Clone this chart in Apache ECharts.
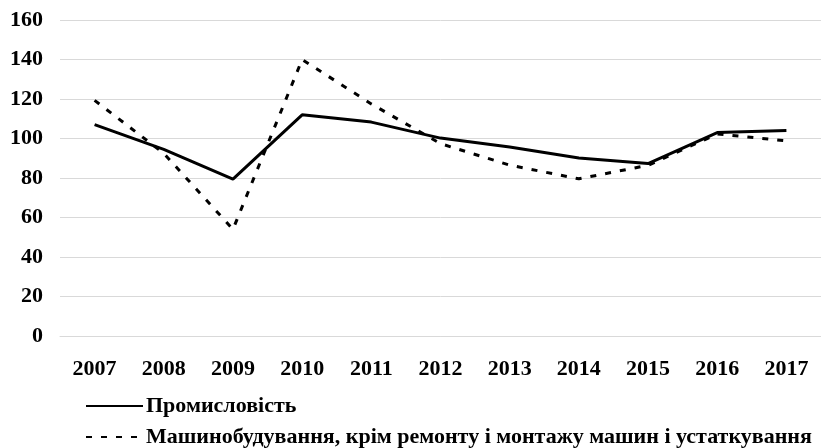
<!DOCTYPE html>
<html>
<head>
<meta charset="utf-8">
<script src="https://cdn.jsdelivr.net/npm/echarts@6/dist/echarts.min.js"></script>
<style>
html,body{margin:0;padding:0;background:#fff;}
#chart{width:821px;height:448px;}
</style>
</head>
<body>
<div id="chart"></div>
<script>
const years = ['2007','2008','2009','2010','2011','2012','2013','2014','2015','2016','2017'];
const seriesNames = ['Промисловість', 'Машинобудування, крім ремонту і монтажу машин і устаткування'];
const industry = [107, 94.5, 79.4, 112, 108.3, 100.2, 95.7, 90.1, 87.3, 103, 104.1];
const machinery = [119.3, 92.5, 54, 140, 117.5, 97.4, 86.5, 79.6, 86.4, 102.3, 98.8];
const yTicks = {min: 0, max: 160, interval: 20};

const font = '"Liberation Serif", "Times New Roman", serif';
const legendCommon = {
  orient: 'horizontal',
  left: 85,
  itemWidth: 57,
  itemHeight: 14,
  itemGap: 0,
  padding: 0,
  itemStyle: {opacity: 0},
  textStyle: {color: '#000', fontFamily: font, fontWeight: 'bold', fontSize: 22, padding: [0,0,0,-2]}
};
const chart = echarts.init(document.getElementById('chart'), null, {renderer: 'canvas'});
chart.setOption({
  animation: false,
  backgroundColor: '#fff',
  grid: {left: 60, width: 767, top: 20, bottom: 112, containLabel: false},
  xAxis: {
    type: 'category',
    data: years,
    boundaryGap: true,
    axisLine: {show: true, lineStyle: {color: '#d9d9d9', width: 1}},
    axisTick: {show: false},
    axisLabel: {color: '#000', fontFamily: font, fontWeight: 'bold', fontSize: 22, margin: 22}
  },
  yAxis: {
    type: 'value',
    min: yTicks.min, max: yTicks.max, interval: yTicks.interval,
    axisLine: {show: false},
    axisTick: {show: false},
    axisLabel: {color: '#000', fontFamily: font, fontWeight: 'bold', fontSize: 22, margin: 17},
    splitLine: {lineStyle: {color: '#d9d9d9', width: 1}}
  },
  legend: [
    Object.assign({}, legendCommon, {top: 395, data: [seriesNames[0]]}),
    Object.assign({}, legendCommon, {top: 426, data: [seriesNames[1]]})
  ],
  series: [
    {
      name: seriesNames[0], type: 'line', data: industry,
      symbol: 'none', lineStyle: {color: '#000', width: 3, type: 'solid'},
      itemStyle: {color: '#000'}
    },
    {
      name: seriesNames[1], type: 'line', data: machinery,
      symbol: 'none', lineStyle: {color: '#000', width: 3, type: [6, 9]},
      itemStyle: {color: '#000'}
    }
  ]
});
</script>
</body>
</html>
